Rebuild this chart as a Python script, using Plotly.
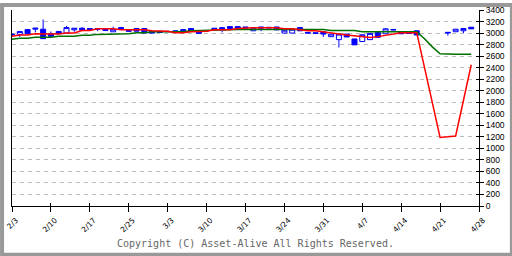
import plotly.graph_objects as go

# Day slots (weekday index from 2/3); slots 53-55 have no prices
days = list(range(0, 53)) + [56, 57, 58, 59]
opens = [2980, 2977, 3061, 3067, 3067, 2988, 3028, 2999, 3056, 3084,
         3078, 3078, 3067, 3022, 3095, 3050, 3078, 3078, 3033, 3033,
         3030, 3039, 3028, 3078, 3028, 3045, 3084, 3056, 3112, 3112,
         3106, 3039, 3106, 3100, 3106, 3000, 3000, 3095, 3010, 3005,
         3022, 2937, 2886, 2982, 2898, 2853, 2886, 3011, 2988, 3062,
         3022, 3010, 3039,
         3000, 3023, 3040, 3101]
highs = [2990, 3028, 3061, 3084, 3236, 3028, 3028, 3123, 3084, 3101,
         3078, 3078, 3067, 3112, 3106, 3050, 3078, 3078, 3033, 3033,
         3035, 3039, 3061, 3078, 3028, 3050, 3084, 3095, 3112, 3112,
         3106, 3084, 3106, 3100, 3106, 3050, 3067, 3095, 3010, 3005,
         3022, 2982, 2982, 2982, 2898, 2971, 2994, 3011, 3085, 3062,
         3022, 3010, 3039,
         3011, 3067, 3078, 3101]
lows = [2955, 2932, 2988, 3011, 2903, 2943, 2988, 2999, 3022, 3050,
        3061, 3033, 3045, 3022, 3067, 3033, 3033, 2999, 2999, 3011,
        3020, 3011, 3000, 3028, 2994, 3035, 3056, 3011, 3078, 3078,
        3084, 3039, 3033, 3090, 3056, 3000, 3000, 3039, 3000, 2995,
        2932, 2937, 2750, 2932, 2796, 2853, 2886, 2926, 2988, 3055,
        2988, 2995, 2966,
        2955, 3023, 3000, 3073]
closes = [2970, 3028, 2988, 3084, 2903, 2943, 2988, 3095, 3084, 3050,
          3061, 3067, 3045, 3067, 3067, 3033, 3033, 2999, 2999, 3011,
          3025, 3011, 3061, 3028, 2994, 3040, 3056, 3095, 3078, 3078,
          3084, 3084, 3084, 3090, 3056, 3050, 3067, 3039, 3000, 2995,
          2982, 2982, 2982, 2932, 2796, 2971, 2994, 2926, 3073, 3055,
          2988, 2995, 2966,
          3011, 3067, 3078, 3073]

# Moving averages, slots 0..59
ma_days = list(range(0, 60))
ma_short = [2943, 2966, 2966, 2990, 2983, 2983, 2983, 3000, 3000, 3045,
            3045, 3073, 3073, 3073, 3056, 3056, 3056, 3056, 3039, 3039,
            3030, 3006, 3006, 3023, 3023, 3030, 3056, 3056, 3056, 3079,
            3090, 3090, 3090, 3090, 3090, 3073, 3073, 3056, 3039, 3039,
            3017, 3000, 2983, 2966, 2950, 2935, 2921, 2938, 2960, 2983,
            3006, 3006, 3006, 2400, 1800, 1190, 1200, 1215, 1830, 2450]
ma_long = [2892, 2909, 2909, 2926, 2926, 2926, 2943, 2943, 2943, 2960,
           2960, 2977, 2977, 2989, 2989, 2989, 3006, 3006, 3023, 3023,
           3023, 3023, 3023, 3040, 3045, 3045, 3045, 3062, 3062, 3062,
           3062, 3062, 3062, 3062, 3062, 3062, 3062, 3062, 3062, 3062,
           3062, 3045, 3045, 3045, 3045, 3023, 3023, 3023, 3023, 3023,
           3023, 3023, 3023, 2900, 2760, 2640, 2633, 2633, 2633, 2633]

tick_pos = [0, 5, 10, 15, 20, 25, 30, 35, 40, 45, 50, 55, 60]
tick_text = ["2/3", "2/10", "2/17", "2/25", "3/3", "3/10", "3/17",
             "3/24", "3/31", "4/7", "4/14", "4/21", "4/28"]

fig = go.Figure()
fig.add_trace(go.Candlestick(
    x=days, open=opens, high=highs, low=lows, close=closes,
    increasing=dict(fillcolor="white", line=dict(color="#0000ff", width=1)),
    decreasing=dict(fillcolor="#0000ff", line=dict(color="#0000ff", width=1)),
    whiskerwidth=0, showlegend=False, hoverinfo="skip"))
fig.add_trace(go.Scatter(x=ma_days, y=ma_long, mode="lines",
                         line=dict(color="#007000", width=1.5),
                         showlegend=False, hoverinfo="skip"))
fig.add_trace(go.Scatter(x=ma_days, y=ma_short, mode="lines",
                         line=dict(color="#ff0000", width=1.5),
                         showlegend=False, hoverinfo="skip"))
# helper trace for the overlay axes (inner half of crossing ticks)
fig.add_trace(go.Scatter(x=[0], y=[0], xaxis="x2", yaxis="y2", mode="markers",
                         marker=dict(opacity=0), showlegend=False,
                         hoverinfo="skip"))

fig.update_layout(
    width=512, height=256,
    margin=dict(l=10, r=33, t=5, b=50),
    paper_bgcolor="white", plot_bgcolor="white",
    boxgap=0.2, boxgroupgap=0.2,
    xaxis=dict(range=[0, 60], tickmode="array", tickvals=tick_pos,
               ticktext=tick_text, ticks="outside", ticklen=5,
               tickcolor="black", showline=True, linecolor="black",
               linewidth=1, showgrid=False, zeroline=False, tickangle=-45,
               ticklabelshift=4, ticklabelstandoff=1,
               tickfont=dict(family="DejaVu Sans", size=7.5, color="black"),
               rangeslider=dict(visible=False)),
    xaxis2=dict(overlaying="x", matches="x", anchor="y", ticks="inside",
                ticklen=3, tickcolor="black", tickmode="array",
                tickvals=tick_pos, showticklabels=False, showline=False,
                showgrid=False, zeroline=False),
    yaxis=dict(range=[0, 3400], side="right", tickmode="linear", tick0=0,
               dtick=200, ticks="outside", ticklen=4, tickcolor="black",
               showline=True, linecolor="black", linewidth=1, mirror=True,
               showgrid=True, gridcolor="#bbbbbb", griddash="4px,4px",
               zeroline=False, ticklabeloverflow="allow",
               tickfont=dict(family="Liberation Sans", size=8.5, color="black")),
    yaxis2=dict(overlaying="y", matches="y", side="right", anchor="x",
                ticks="inside", ticklen=3, tickcolor="black",
                tickmode="linear", tick0=0, dtick=200,
                showticklabels=False, showline=False, showgrid=False,
                zeroline=False),
    annotations=[dict(text="Copyright (C) Asset-Alive All Rights Reserved.",
                      xref="paper", yref="paper", x=0.522, y=-0.19,
                      xanchor="center", yanchor="middle", showarrow=False,
                      font=dict(family="DejaVu Sans Mono", size=10,
                                color="#666666"))],
    shapes=[dict(type="rect", xref="paper", yref="paper",
                 x0=-0.0213, x1=1.0704, y0=-0.2488, y1=1.0249,
                 line=dict(color="#999999", width=4), layer="above")],
)

fig.write_html("out.html")
